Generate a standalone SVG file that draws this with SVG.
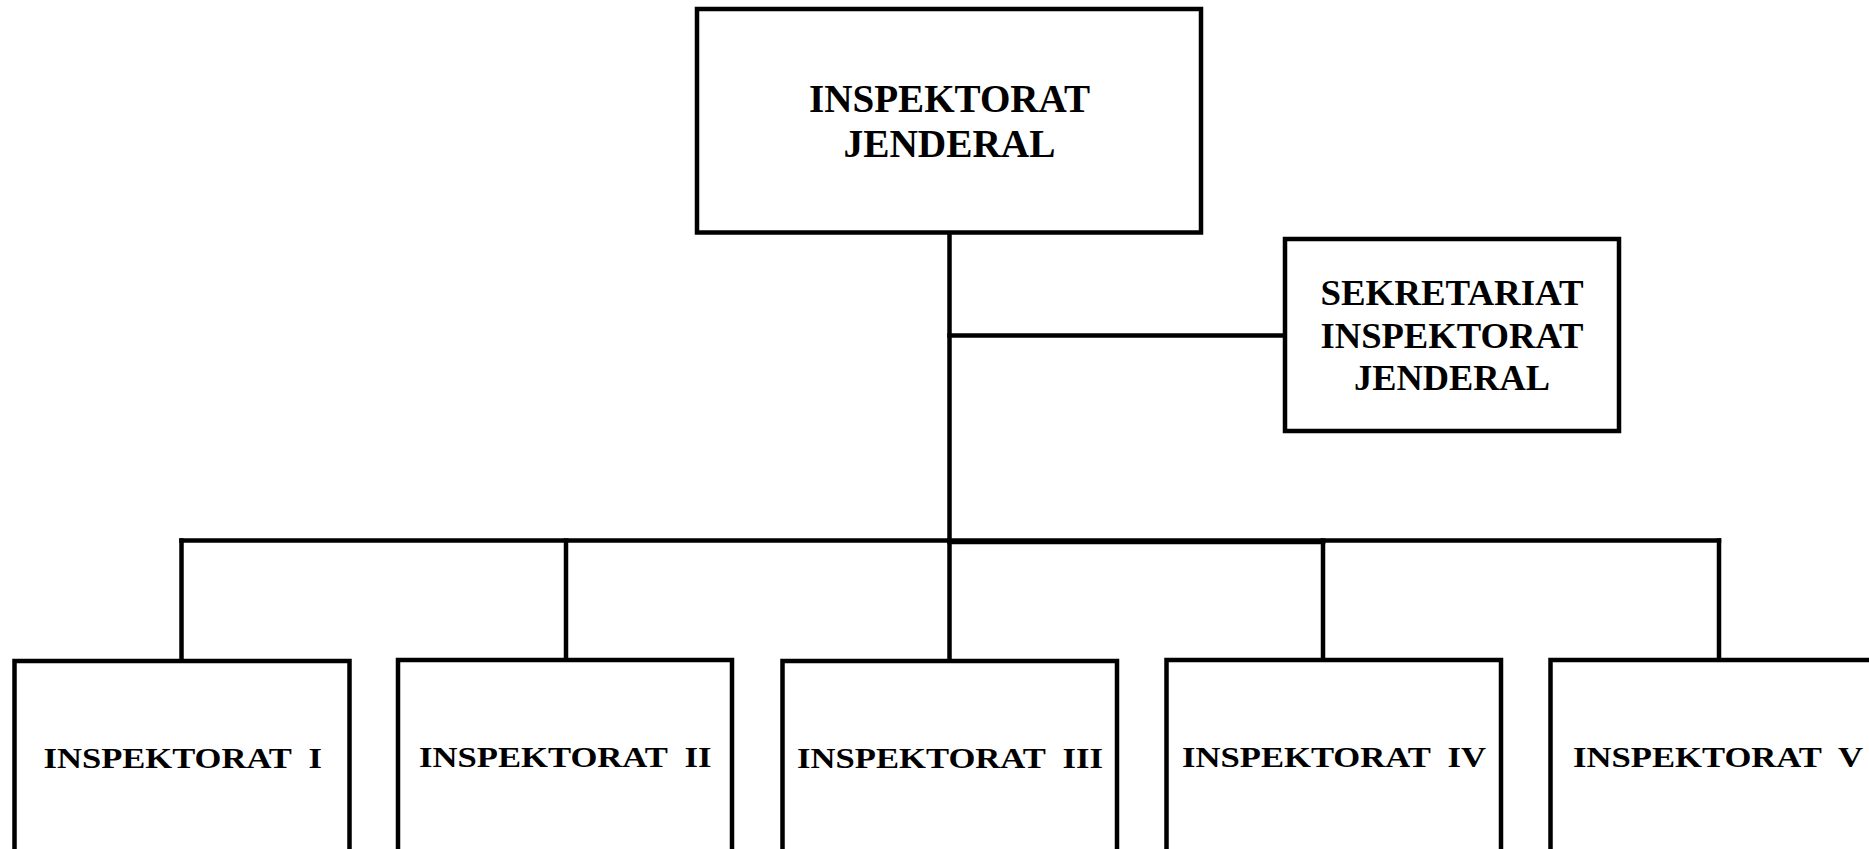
<svg xmlns="http://www.w3.org/2000/svg" width="1869" height="849" viewBox="0 0 1869 849">
  <style>
    .box { fill: #ffffff; stroke: #000000; stroke-width: 4.5; }
    .conn { fill: none; stroke: #000000; stroke-width: 4.5; stroke-linecap: square; }
    .lbl { font-family: "Liberation Serif", "Times New Roman", serif; font-weight: bold; fill: #000000; }
    .big { font-size: 39px; }
    .mid { font-size: 35px; }
    .small { font-size: 30px; }
  </style>
  <rect width="1869" height="849" fill="#ffffff"/>
  <g id="connectors">
    <path class="conn" d="M949.5 233 V540.5"/>
    <path class="conn" d="M949.5 335.5 H1284"/>
    <path class="conn" d="M181.5 540.5 H1719"/>
    <path class="conn" d="M949.5 542 H1323"/>
    <path class="conn" d="M181.5 540.5 V660"/>
    <path class="conn" d="M566 540.5 V660"/>
    <path class="conn" d="M949.5 540.5 V660"/>
    <path class="conn" d="M1323 540.5 V660"/>
    <path class="conn" d="M1719 540.5 V660"/>
  </g>
  <g id="inspektorat-jenderal">
    <rect class="box" x="697" y="9" width="504" height="223.5"/>
    <text class="lbl big" x="949.5" y="112" text-anchor="middle" textLength="281" lengthAdjust="spacingAndGlyphs">INSPEKTORAT</text>
    <text class="lbl big" x="949.5" y="156.5" text-anchor="middle" textLength="212" lengthAdjust="spacingAndGlyphs">JENDERAL</text>
  </g>
  <g id="sekretariat">
    <rect class="box" x="1285" y="239" width="334" height="192"/>
    <text class="lbl mid" x="1452" y="305" text-anchor="middle" textLength="263" lengthAdjust="spacingAndGlyphs">SEKRETARIAT</text>
    <text class="lbl mid" x="1452" y="347.5" text-anchor="middle" textLength="263" lengthAdjust="spacingAndGlyphs">INSPEKTORAT</text>
    <text class="lbl mid" x="1452" y="390" text-anchor="middle" textLength="196" lengthAdjust="spacingAndGlyphs">JENDERAL</text>
  </g>
  <g id="inspektorat-1">
    <rect class="box" x="14.5" y="661" width="335" height="200"/>
    <text class="lbl small" x="43.5" y="768" xml:space="preserve" textLength="278.5" lengthAdjust="spacingAndGlyphs">INSPEKTORAT  I</text>
  </g>
  <g id="inspektorat-2">
    <rect class="box" x="398" y="660" width="334" height="200"/>
    <text class="lbl small" x="419" y="767" xml:space="preserve" textLength="292.5" lengthAdjust="spacingAndGlyphs">INSPEKTORAT  II</text>
  </g>
  <g id="inspektorat-3">
    <rect class="box" x="782.5" y="661" width="334.5" height="200"/>
    <text class="lbl small" x="797" y="768" xml:space="preserve" textLength="306" lengthAdjust="spacingAndGlyphs">INSPEKTORAT  III</text>
  </g>
  <g id="inspektorat-4">
    <rect class="box" x="1166.5" y="660" width="334.5" height="200"/>
    <text class="lbl small" x="1182" y="767" xml:space="preserve" textLength="304" lengthAdjust="spacingAndGlyphs">INSPEKTORAT  IV</text>
  </g>
  <g id="inspektorat-5">
    <rect class="box" x="1550.5" y="660" width="340" height="200"/>
    <text class="lbl small" x="1573" y="767" xml:space="preserve" textLength="290" lengthAdjust="spacingAndGlyphs">INSPEKTORAT  V</text>
  </g>
</svg>
